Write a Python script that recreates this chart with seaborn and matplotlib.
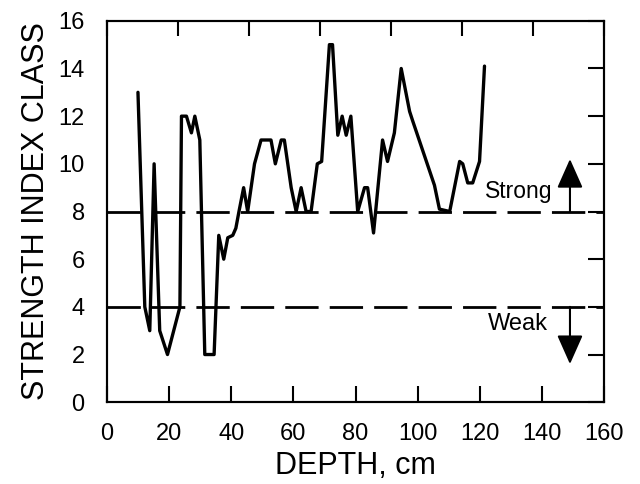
import numpy as np
import pandas as pd
import matplotlib
matplotlib.use("Agg")
import matplotlib.pyplot as plt
import seaborn as sns

# ---- data ----
depth = [10, 12.2, 13.8, 15.2, 17, 19.5, 23.5, 24, 25.6, 27.2, 28.3, 29.9, 31.5, 34.5,
         36, 37.6, 38.9, 40.5, 41.5, 42.5, 44, 45.3, 47.5, 49.6, 52.8, 54.2, 56.1, 57.1,
         59.3, 60.9, 62.5, 64.1, 65.7, 67.7, 69.1, 71.6, 72.6, 74.3, 75.7, 77, 78.5,
         80.7, 82.9, 83.9, 85.8, 88.7, 90.3, 92.5, 94.7, 97.4, 98.4, 105.4, 107, 110.3,
         113.5, 114.5, 116.1, 117.7, 119.9, 121.5]
strength = [13, 4, 3, 10, 3, 2, 4, 12, 12, 11.3, 12, 11, 2, 2,
            7, 6, 6.9, 7, 7.3, 8, 9, 8, 10, 11, 11, 10, 11, 11,
            9, 8, 9, 8, 8, 10, 10.1, 15, 15, 11.2, 12, 11.2, 12,
            8, 9, 9, 7.1, 11, 10.1, 11.3, 14, 12.2, 11.8, 9.1, 8.1, 8,
            10.1, 10, 9.2, 9.2, 10.1, 14.1]
thresholds = [8, 4]
x_ticks = [0, 20, 40, 60, 80, 100, 120, 140, 160]
y_ticks = [0, 2, 4, 6, 8, 10, 12, 14, 16]
top_ticks = list(np.linspace(0, 160, 8))

df = pd.DataFrame({"depth": depth, "strength": strength})

sns.set_style("white")
plt.rcParams["font.family"] = ["Liberation Sans", "DejaVu Sans"]
plt.rcParams["text.color"] = "black"
plt.rcParams["axes.labelcolor"] = "black"
plt.rcParams["xtick.color"] = "black"
plt.rcParams["ytick.color"] = "black"

fig = plt.figure(figsize=(6.4, 4.84), dpi=100)
ax = fig.add_axes([0.167, 0.169, 0.777, 0.788])

sns.lineplot(data=df, x="depth", y="strength", sort=False, estimator=None,
             color="black", linewidth=2.4, ax=ax)
for ln in ax.get_lines():
    ln.set_solid_joinstyle("round")
    ln.set_solid_capstyle("round")

for t in thresholds:
    ax.axhline(t, color="black", linewidth=2.0, dashes=(12, 4), zorder=1)

ax.set_xlim(0, 160)
ax.set_ylim(0, 16)
ax.set_xticks(x_ticks)
ax.set_yticks(y_ticks)
ax.tick_params(axis="both", direction="in", length=11.5, width=1.5,
               labelsize=17, colors="black", labelcolor="black")
ax.tick_params(axis="x", pad=15)
ax.tick_params(axis="y", pad=16, right=True)
for s in ax.spines.values():
    s.set_linewidth(1.5)
    s.set_color("black")

ax.set_xlabel("DEPTH, cm", fontsize=22, labelpad=4, color="black")
ax.set_ylabel("STRENGTH INDEX CLASS", fontsize=22, labelpad=5, color="black")

# top axis with its own tick spacing (no labels)
axt = ax.twiny()
axt.set_xlim(ax.get_xlim())
axt.set_xticks(top_ticks)
axt.tick_params(axis="x", direction="in", length=11, width=1.5, labeltop=False,
                colors="black")
for s in axt.spines.values():
    s.set_linewidth(1.5)
    s.set_color("black")

# annotations
ax.text(121.8, 8.85, "Strong", fontsize=16.5, va="center", ha="left", color="black")
ax.text(122.5, 3.3, "Weak", fontsize=17, va="center", ha="left", color="black")
ax.annotate("", xy=(149, 10.2), xytext=(149, 8),
            arrowprops=dict(arrowstyle="-|>,head_length=0.45,head_width=0.2",
                            mutation_scale=40, lw=1.5, color="black", fc="black",
                            shrinkA=0, shrinkB=0))
ax.annotate("", xy=(149, 1.6), xytext=(149, 4),
            arrowprops=dict(arrowstyle="-|>,head_length=0.45,head_width=0.2",
                            mutation_scale=40, lw=1.5, color="black", fc="black",
                            shrinkA=0, shrinkB=0))

fig.savefig("out.png", dpi=100, facecolor="white")
